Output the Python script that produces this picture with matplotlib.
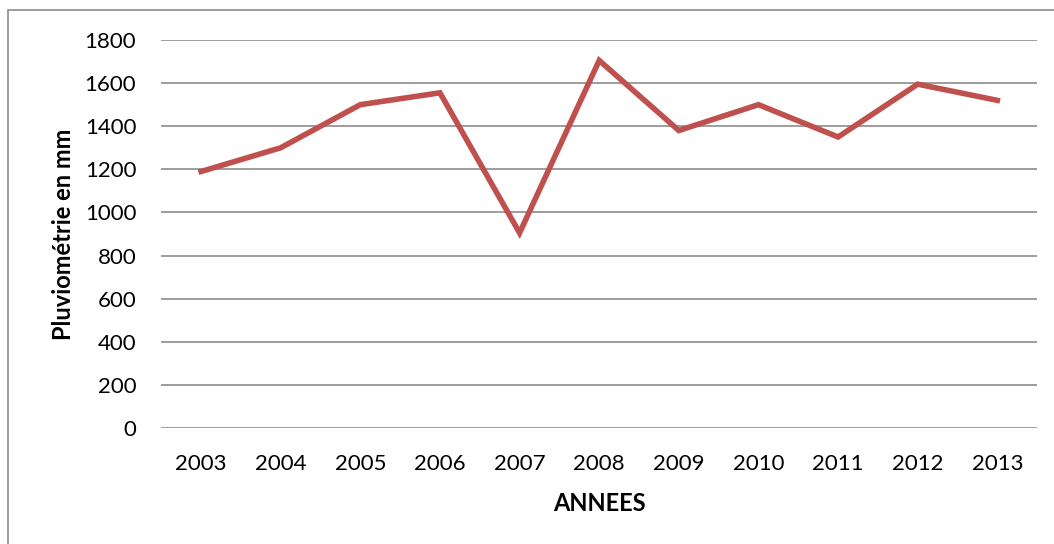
import matplotlib.pyplot as plt
from matplotlib.patches import Rectangle

years = ["2003", "2004", "2005", "2006", "2007", "2008", "2009", "2010", "2011", "2012", "2013"]
pluvio = [1190, 1300, 1500, 1555, 905, 1705, 1380, 1500, 1350, 1595, 1520]
yticks = [0, 200, 400, 600, 800, 1000, 1200, 1400, 1600, 1800]

plt.rcParams['font.family'] = ['Lato', 'DejaVu Sans']

fig = plt.figure(figsize=(10.54, 5.44), dpi=100)
ax = fig.add_axes([0.153, 0.2132, 0.831, 0.7133])

# cadre du graphique (bord gauche et haut seulement visibles)
fig.patches.append(Rectangle((8 / 1054, -0.1), 1.2, 1 - 10 / 544 + 0.1,
                             transform=fig.transFigure, fill=False,
                             edgecolor='#8c8c8c', linewidth=1.2))

x = range(len(years))
ax.plot(x, pluvio, color='#C0504D', linewidth=4, solid_joinstyle='miter')

ax.set_xlim(-0.5, len(years) - 0.5)
ax.set_ylim(0, 1800)
ax.set_yticks(yticks)
ax.set_xticks(list(x))
ax.set_xticklabels(years)
ax.grid(axis='y', color='#8c8c8c', linewidth=1.2)
ax.set_axisbelow(True)
for s in ax.spines.values():
    s.set_visible(False)
ax.tick_params(length=0, labelsize=16)
ax.tick_params(axis='y', pad=18)
ax.tick_params(axis='x', pad=19)

ax.set_xlabel("ANNEES", fontsize=17, fontweight='bold', labelpad=13)
ax.set_ylabel("Pluviométrie en mm", fontsize=17, fontweight='bold', labelpad=7)

fig.savefig("out.png", dpi=100)
